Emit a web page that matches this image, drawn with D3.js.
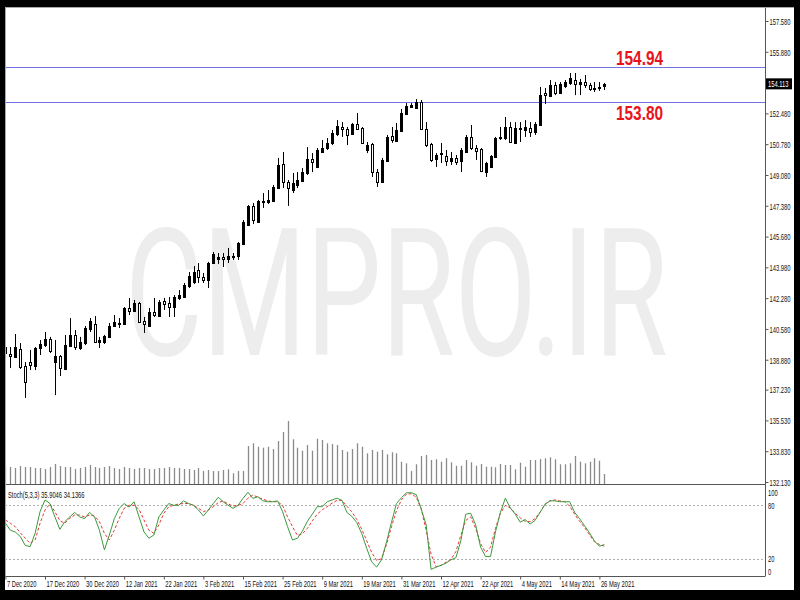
<!DOCTYPE html>
<html><head><meta charset="utf-8">
<script src="https://cdn.jsdelivr.net/npm/d3@7"></script>
<style>body{margin:0;background:#000;} svg{display:block}</style>
</head><body>
<svg id="c" width="800" height="600"></svg>
<script>
// ---- DATA ----
const open=[139.58,139.20,139.03,139.47,138.53,138.75,138.53,139.53,139.69,140.02,
138.75,139.09,138.37,139.64,140.25,139.53,139.80,140.58,140.85,139.86,
139.86,140.14,140.74,140.85,140.85,141.74,141.57,142.01,141.02,140.74,
141.52,141.29,142.12,142.01,141.79,142.29,142.34,142.95,143.17,143.83,
143.45,143.28,144.22,144.44,144.55,144.44,144.61,144.61,145.27,146.32,
147.37,146.48,147.64,147.59,147.64,148.36,149.69,148.69,148.25,148.53,
148.75,149.19,149.96,149.52,150.35,150.57,150.85,151.34,151.73,151.62,
151.34,151.89,151.67,150.46,150.79,149.24,148.69,149.85,151.23,150.96,
151.51,152.45,152.83,152.78,153.11,151.62,150.79,149.96,150.29,150.13,
149.85,150.02,149.85,150.35,151.18,150.57,150.51,149.24,149.52,150.07,
151.12,151.12,151.73,150.85,151.67,151.56,151.67,151.45,151.84,153.61,
153.44,154.05,153.61,153.99,154.16,154.32,154.10,154.21,154.05,153.83,
153.88,153.97];
const high=[139.80,139.58,140.30,139.80,138.75,139.42,139.58,139.97,140.41,140.14,
139.97,139.14,140.25,141.18,140.52,140.14,140.74,141.18,141.29,140.14,
140.25,140.91,141.35,141.18,141.79,142.29,142.18,142.07,141.24,141.74,
142.29,142.18,142.29,142.34,142.45,142.73,143.12,143.72,144.05,144.22,
143.67,144.28,144.83,144.77,144.77,145.05,144.77,145.38,146.59,147.42,
147.53,147.70,148.08,148.25,148.53,150.02,150.35,148.80,149.19,149.24,
149.46,150.62,150.29,150.57,151.01,151.12,151.56,152.11,152.00,151.73,
151.95,152.50,151.73,150.90,150.85,149.41,150.02,151.29,151.73,151.95,
152.72,153.05,153.05,153.27,153.22,152.00,150.85,150.29,150.85,150.46,
150.35,150.18,150.57,151.29,151.84,150.73,150.57,149.80,150.18,151.18,
151.73,152.28,152.00,152.00,152.00,152.11,152.00,152.00,153.94,153.88,
154.32,154.21,154.21,154.32,154.71,154.71,154.38,154.60,154.16,154.21,
154.21,154.16];
const low=[138.98,138.42,138.98,138.37,136.77,138.31,138.31,139.14,139.58,139.25,
136.93,137.98,138.31,139.58,139.42,139.42,139.69,140.41,139.80,139.53,
139.75,140.08,140.69,140.63,140.80,141.35,141.52,140.91,140.36,140.69,
141.24,141.24,141.63,141.24,141.24,142.18,142.29,142.84,143.06,143.12,
143.12,142.84,144.17,144.17,144.00,144.22,144.39,144.39,145.21,146.26,
146.37,146.45,147.26,147.48,147.59,148.31,148.36,147.37,148.08,148.36,
148.69,149.08,149.24,149.46,150.29,150.46,150.73,151.23,151.18,150.73,
151.29,151.56,150.79,150.29,148.97,148.42,148.64,149.80,150.85,150.90,
151.45,152.39,152.78,152.72,151.56,150.62,149.80,149.52,149.74,149.58,
149.63,149.63,149.24,150.29,150.46,149.91,149.24,148.97,149.46,150.02,
151.01,151.01,150.85,150.79,150.90,151.18,151.18,151.29,151.78,153.00,
153.38,153.49,153.55,153.88,154.05,153.49,153.49,153.88,153.72,153.66,
153.72,153.77];
const close=[139.25,139.09,139.58,138.48,137.65,138.59,139.53,139.75,140.02,139.36,
139.09,138.42,139.69,140.25,139.58,139.86,140.63,141.02,139.86,139.97,
140.19,140.74,140.96,140.91,141.74,141.57,142.01,140.96,140.85,141.52,
141.35,142.07,141.96,141.79,142.34,142.45,143.01,143.50,143.72,143.45,
143.28,144.22,144.72,144.55,144.44,144.61,144.55,145.32,146.48,147.37,
146.59,147.64,147.59,147.70,148.42,149.63,148.69,148.36,148.64,148.80,
149.24,149.96,149.80,150.46,150.57,150.85,151.40,151.78,151.62,151.29,
151.89,151.62,150.85,150.73,149.24,148.69,149.91,151.18,151.01,151.56,
152.50,152.89,152.94,153.11,151.62,150.73,149.91,150.18,150.24,149.85,
150.02,149.80,150.46,151.18,150.57,150.40,149.30,149.74,150.13,151.12,
151.18,151.73,150.90,151.67,151.62,151.73,151.45,151.89,153.49,153.49,
154.05,153.61,154.10,154.21,154.43,154.10,154.21,154.05,153.83,153.88,
153.94,154.11];
const volume=[34000,34000,32000,36000,34000,34000,32000,32000,30000,34000,
40000,36000,34000,34000,30000,32000,34000,38000,34000,32000,
34000,36000,32000,30000,34000,32000,30000,32000,32000,30000,
30000,32000,32000,34000,32000,32000,30000,30000,28000,32000,
26000,28000,26000,26000,28000,29400,21400,26000,26000,76000,
81400,74600,72600,74600,70000,86000,104000,126000,89400,72600,
66600,78000,66600,90600,88000,81400,80000,78000,68000,64600,
70000,81400,74600,61400,68000,64600,68000,59400,63400,61400,
44600,41400,26000,39400,56000,58000,48000,49400,44600,51400,
43400,36600,36600,48000,43400,36600,40000,34600,34600,33400,
40000,38000,38000,29400,42600,34600,48000,48000,50000,51400,
53400,49400,39400,39400,41400,56000,44600,41400,44600,51400,
46600,20000];
const stochK=[60,52,50,45,35,33.5,48.5,73,86,82,
67,53,61.6,67,72,67,65,72,67,52,
30,46.6,65,76.6,82,78,84,67,50,43,
46.6,67,74.7,82,80,80,85,82,80,74.7,
68,74.7,82,89,84,80,76.6,80,87.8,94.6,
87.8,89.7,85,84,84,85,72.8,56,41,43,
51,62,70,78.5,78.5,84,86,88,85.5,72,
67.5,60.5,48,31.5,16.5,10.5,19,39,61,82,
88.5,94,94.2,92,76,58,8,10.5,12.5,15,
18.8,21,40,70,71,58,33,22.4,22.4,50,
72,88,77,70,61,64,59,63,72,81,
85,85,84,84,84,72,65,57,49,40,
34,35.9046];
const stochD=[63.5,59.8,56,49.2,43,37.3,41,59.8,74.7,81.5,
72.8,62.7,59.8,65.4,69,69,67,69,68,61.6,
48.5,41,52,65.4,76.6,80,80,75.5,63.5,52,
48.5,57.9,71,78.4,80,81.5,82,82,80,76.6,
72.8,74.7,78.4,83,85,81.5,79.2,80,82,87.9,
91.6,89,87,85,84,84,80,67,56,46,
48,54,62.5,70,75,78.5,82.5,85.5,85.5,79,
72.5,64,53,40,27,18,20,36,56,74,
86,92.5,93,89,76,52,25,11,12.5,16,
19,28,46,63,67,54,37,27,33,54,
71,80,77,71,66,62,61.6,65,72,81,
85,86,85,84,79,70,62,55,47,39,
36,34.1366];
const priceTicks=[157.58,155.88,152.48,150.78,149.08,147.38,145.68,143.98,142.28,140.58,138.88,137.23,135.53,133.83,132.13];
const dateTickIdx=[0,8,16,24,32,40,48,56,64,72,80,88,96,104,112,120];
const dateTickLabels=["7 Dec 2020","17 Dec 2020","30 Dec 2020","12 Jan 2021","22 Jan 2021","3 Feb 2021","15 Feb 2021","25 Feb 2021","9 Mar 2021","19 Mar 2021","31 Mar 2021","12 Apr 2021","22 Apr 2021","4 May 2021","14 May 2021","26 May 2021"];
const levels=[155.04,153.11];
const levelLabels=["154.94","153.80"];
const lastPriceLabel="154.113";
const stochTicks=[100,80,20,0];
const stochLevels=[80,20];
const stochTitle="Stoch(5,3,3) 35.9046 34.1366";
const watermark="CMPRO.IR";

// ---- LAYOUT ----
const L=5, R=765, T=7, PB=484, SB=576.5;
const svg=d3.select("#c");
svg.append("rect").attr("width",800).attr("height",600).attr("fill","#000");
svg.append("rect").attr("x",5).attr("y",7).attr("width",789).attr("height",583).attr("fill","#fff");

const x=d3.scaleLinear().domain([0,121]).range([5.4,604.35]);
const y=d3.scaleLinear().domain([132.13,157.58]).range([482,21]);
const yv=d3.scaleLinear().domain([0,126000]).range([484,421]);
const ys=d3.scaleLinear().domain([0,100]).range([576.5,487.5]);

const defs=svg.append("defs");
defs.append("clipPath").attr("id","cp").append("rect").attr("x",L).attr("y",T).attr("width",R-L).attr("height",PB-T);
defs.append("clipPath").attr("id","cs").append("rect").attr("x",L).attr("y",PB+1).attr("width",R-L).attr("height",SB-PB-1);

const SF="'Liberation Sans', Arial, sans-serif";
const FS=5.8, SY=1.6;
function smallText(g, tx, ty, str, fill){
  return g.append("text").attr("transform",`translate(${tx},${ty}) scale(1,${SY})`)
    .attr("font-family",SF).attr("font-size",FS).attr("fill",fill||"#111").text(str);
}

const main=svg.append("g").attr("clip-path","url(#cp)");
// watermark
main.append("text").attr("transform","translate(125,355) scale(1,1.496)")
  .attr("font-family","Roboto, 'Open Sans', sans-serif")
  .attr("font-size",119).attr("fill","#ededed").text(watermark);

// volumes
main.append("g").selectAll("line").data(volume).join("line")
  .attr("x1",(d,i)=>Math.round(x(i))+0.5).attr("x2",(d,i)=>Math.round(x(i))+0.5)
  .attr("y1",PB).attr("y2",d=>yv(d)).attr("stroke","#8a8a8a").attr("stroke-width",1.3);

// level lines
main.append("g").selectAll("line").data(levels).join("line")
  .attr("x1",L).attr("x2",R).attr("y1",d=>Math.round(y(d))+0.5).attr("y2",d=>Math.round(y(d))+0.5)
  .attr("stroke","#7272e0").attr("stroke-width",1);

// candles
const cg=main.append("g");
open.forEach((o,i)=>{
  const c=close[i], cx=Math.round(x(i));
  cg.append("line").attr("x1",cx+0.5).attr("x2",cx+0.5).attr("y1",y(high[i])).attr("y2",y(low[i]))
    .attr("stroke","#000").attr("stroke-width",1);
  const top=Math.round(y(Math.max(o,c))), bot=Math.round(y(Math.min(o,c)));
  cg.append("rect").attr("x",cx-0.5).attr("y",top+0.5).attr("width",2).attr("height",Math.max(bot-top,1))
    .attr("fill",c>=o?"#000":"#fff").attr("stroke","#000").attr("stroke-width",1);
});

// level labels
levels.forEach((d,i)=>{
  const ty=i===0?y(d)-2:y(d)+18;
  svg.append("text").attr("transform",`translate(616,${ty}) scale(1,1.27)`)
    .attr("font-family",SF).attr("font-weight","bold").attr("font-size",15.4).attr("fill","#e8141c")
    .text(levelLabels[i]);
});

// frame lines
svg.append("line").attr("x1",R+0.5).attr("x2",R+0.5).attr("y1",T).attr("y2",SB).attr("stroke","#555");
svg.append("line").attr("x1",L).attr("x2",R).attr("y1",PB+0.5).attr("y2",PB+0.5).attr("stroke","#555");
svg.append("line").attr("x1",L).attr("x2",R).attr("y1",SB).attr("y2",SB).attr("stroke","#555");
svg.append("line").attr("x1",L+0.5).attr("x2",L+0.5).attr("y1",T).attr("y2",SB).attr("stroke","#aaa");
svg.append("line").attr("x1",L).attr("x2",794).attr("y1",T+0.5).attr("y2",T+0.5).attr("stroke","#aaa");

// price axis
const pa=d3.axisRight(y).tickValues(priceTicks).tickSize(3).tickFormat(d3.format(".3f"));
const pag=svg.append("g").attr("transform",`translate(${R+0.5},0)`).call(pa);
pag.select(".domain").remove();
pag.selectAll("line").attr("stroke","#555");
pag.selectAll("text").attr("x",null).attr("dy",null)
  .attr("transform",`translate(4,3.3) scale(1,${SY})`)
  .attr("font-family",SF).attr("font-size",FS).attr("fill","#111");

// last price box
const ly=y(close[close.length-1]);
svg.append("rect").attr("x",766).attr("y",ly-5.5).attr("width",26).attr("height",11).attr("fill","#000");
smallText(svg,768,ly+3.3,lastPriceLabel,"#fff");

// stoch panel
const sg=svg.append("g");
sg.selectAll(".sl").data(stochLevels).join("line").attr("class","sl")
  .attr("x1",L).attr("x2",R).attr("y1",d=>Math.round(ys(d))+0.5).attr("y2",d=>Math.round(ys(d))+0.5)
  .attr("stroke","#b0b0b0").attr("stroke-dasharray","2,2");
const sp=sg.append("g").attr("clip-path","url(#cs)");
sp.append("path").datum(stochD).attr("fill","none").attr("stroke","#e8383a").attr("stroke-width",1)
  .attr("stroke-dasharray","3,2").attr("d",d3.line().x((d,i)=>x(i)).y(d=>ys(d)));
sp.append("path").datum(stochK).attr("fill","none").attr("stroke","#3c9a3c").attr("stroke-width",1)
  .attr("d",d3.line().x((d,i)=>x(i)).y(d=>ys(d)));
smallText(sg,8,498,stochTitle);
stochTicks.forEach(d=>{
  const off=d===100?8.5:d===0?-2:3.3;
  smallText(sg,768,ys(d)+off,String(d));
});

// date axis
const da=d3.axisBottom(x).tickValues(dateTickIdx).tickSize(3).tickFormat((d,i)=>dateTickLabels[i]);
const dag=svg.append("g").attr("transform",`translate(0,${SB})`).call(da);
dag.select(".domain").remove();
dag.selectAll("line").attr("stroke","#555");
dag.selectAll("text").attr("y",null).attr("dy",null).attr("text-anchor","start")
  .attr("transform",`translate(1,10.5) scale(1,${SY})`)
  .attr("font-family",SF).attr("font-size",FS).attr("fill","#111");
</script>
</body></html>
